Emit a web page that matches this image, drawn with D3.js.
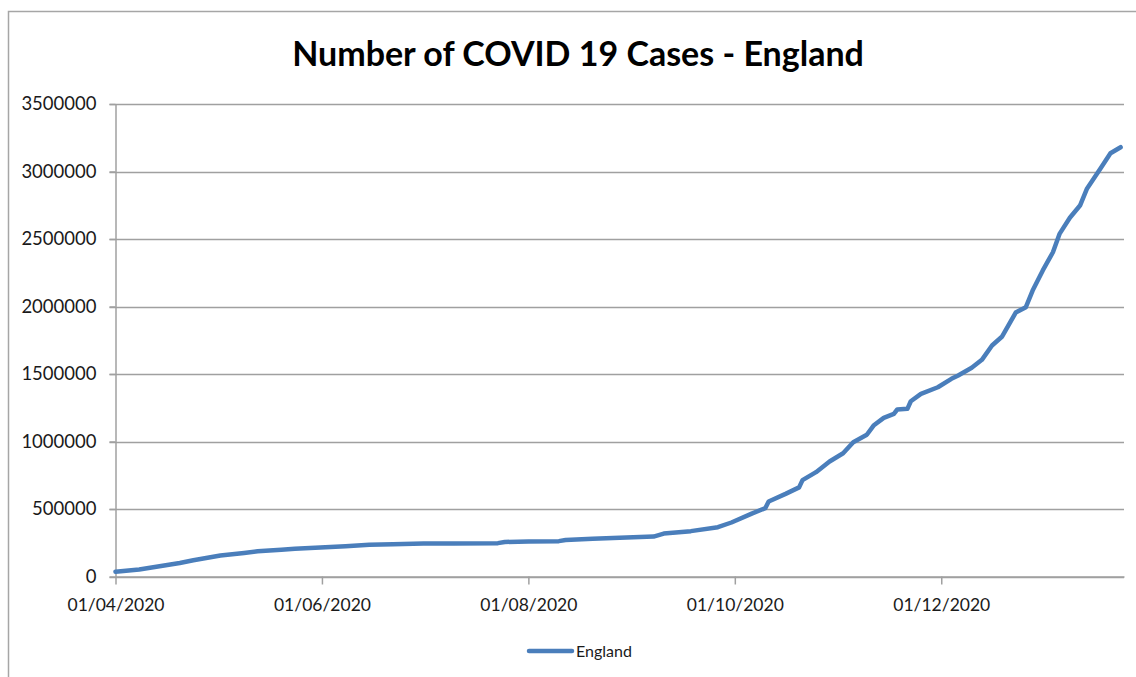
<!DOCTYPE html>
<html>
<head>
<meta charset="utf-8">
<script src="https://cdn.jsdelivr.net/npm/d3@7/dist/d3.min.js"></script>
<style>
  html, body { margin: 0; padding: 0; background: #ffffff; }
  svg { display: block; }
</style>
</head>
<body>
<script>
// Cumulative confirmed COVID-19 cases in England
const dates = [
  "2020-04-01","2020-04-08","2020-04-14","2020-04-20","2020-04-24","2020-05-02",
  "2020-05-09","2020-05-13","2020-05-20","2020-05-24","2020-06-02","2020-06-08",
  "2020-06-15","2020-06-22","2020-07-01","2020-07-10","2020-07-23","2020-07-25",
  "2020-08-01","2020-08-10","2020-08-12","2020-08-20","2020-08-30","2020-09-07",
  "2020-09-10","2020-09-18","2020-09-26","2020-09-30","2020-10-06","2020-10-10",
  "2020-10-11","2020-10-16","2020-10-20","2020-10-21","2020-10-25","2020-10-29",
  "2020-11-02","2020-11-05","2020-11-09","2020-11-11","2020-11-14","2020-11-17",
  "2020-11-18","2020-11-21","2020-11-22","2020-11-25","2020-11-30","2020-12-04",
  "2020-12-06","2020-12-10","2020-12-13","2020-12-16","2020-12-19","2020-12-23",
  "2020-12-26","2020-12-28","2020-12-31","2021-01-03","2021-01-05","2021-01-08",
  "2021-01-11","2021-01-13","2021-01-17","2021-01-20","2021-01-23"
];
const cases = [
  35000, 52000, 76000, 100000, 120000, 155000,
  174000, 187000, 198000, 205000, 217000, 224000,
  235000, 239000, 244000, 245000, 247000, 256000,
  259000, 262000, 270000, 279000, 289000, 296000,
  318000, 336000, 365000, 400000, 466000, 506000,
  556000, 612000, 660000, 714000, 773000, 852000,
  913000, 995000, 1050000, 1118000, 1175000, 1205000,
  1237000, 1242000, 1298000, 1353000, 1402000, 1464000,
  1489000, 1546000, 1605000, 1711000, 1778000, 1955000,
  1995000, 2118000, 2267000, 2402000, 2540000, 2657000,
  2748000, 2870000, 3020000, 3135000, 3180000
];
const xTickDates = ["2020-04-01","2020-06-01","2020-08-01","2020-10-01","2020-12-01"];
const yTickValues = [0, 500000, 1000000, 1500000, 2000000, 2500000, 3000000, 3500000];
const xDomain = ["2020-04-01", "2021-01-24"];
const seriesName = "England";
const chartTitle = "Number of COVID 19 Cases - England";

const W = 1136, H = 677;
const parse = d3.timeParse("%Y-%m-%d");
const fmt = d3.timeFormat("%d/%m/%Y");
const data = dates.map((d, i) => ({ date: parse(d), value: cases[i] }));

const plot = { left: 115.5, right: 1124, top: 104, bottom: 576.5 };
const font = "Lato, 'Open Sans', sans-serif";

const x = d3.scaleTime()
  .domain(xDomain.map(parse))
  .range([plot.left, plot.right]);
const y = d3.scaleLinear()
  .domain([0, 3500000])
  .range([plot.bottom, plot.top]);

const svg = d3.select("body").append("svg")
  .attr("width", W).attr("height", H);

// chart frame
svg.append("rect")
  .attr("x", 8.5).attr("y", 11.5)
  .attr("width", W + 20).attr("height", H + 20)
  .attr("fill", "#ffffff")
  .attr("stroke", "#a6a6a6").attr("stroke-width", 1.5);

// title
svg.append("text")
  .attr("x", 578).attr("y", 66)
  .attr("text-anchor", "middle")
  .attr("font-family", font)
  .attr("font-weight", "bold")
  .attr("font-size", 34)
  .attr("fill", "#000000")
  .text(chartTitle);

// horizontal gridlines with short outside ticks
svg.append("g")
  .selectAll("line")
  .data(yTickValues)
  .join("line")
  .attr("x1", plot.left - 6).attr("x2", plot.right)
  .attr("y1", d => Math.round(y(d)) + 0.5)
  .attr("y2", d => Math.round(y(d)) + 0.5)
  .attr("stroke", "#a0a0a0").attr("stroke-width", 1.5);

// y axis
const yAxis = svg.append("g")
  .attr("transform", `translate(${plot.left},0)`)
  .call(d3.axisLeft(y).tickValues(yTickValues).tickFormat(d3.format("d")).tickSize(6).tickSizeOuter(0));
yAxis.select(".domain").attr("stroke", "#a0a0a0").attr("stroke-width", 1.5);
yAxis.selectAll(".tick line").attr("stroke", "#a0a0a0").attr("stroke-width", 1.5);
yAxis.selectAll(".tick text")
  .attr("x", -19)
  .attr("font-family", font)
  .attr("font-size", 18.5)
  .attr("fill", "#1a1a1a");

// x axis
const xAxis = svg.append("g")
  .attr("transform", `translate(0,${plot.bottom})`)
  .call(d3.axisBottom(x).tickValues(xTickDates.map(parse)).tickFormat(fmt).tickSize(8).tickSizeOuter(0));
xAxis.select(".domain").attr("stroke", "#a0a0a0").attr("stroke-width", 1.5);
xAxis.selectAll(".tick line").attr("stroke", "#a0a0a0").attr("stroke-width", 1.5);
xAxis.selectAll(".tick text")
  .attr("y", 22)
  .attr("font-family", font)
  .attr("font-size", 17.5)
  .attr("fill", "#1a1a1a");

// cases line
svg.append("path")
  .datum(data)
  .attr("fill", "none")
  .attr("stroke", "#4a7ebb")
  .attr("stroke-width", 4.5)
  .attr("stroke-linejoin", "round")
  .attr("stroke-linecap", "round")
  .attr("d", d3.line().x(d => x(d.date)).y(d => y(d.value)));

// legend
const legend = svg.append("g").attr("transform", "translate(529,651)");
legend.append("line")
  .attr("x1", 0).attr("x2", 43).attr("y1", 0).attr("y2", 0)
  .attr("stroke", "#4a7ebb").attr("stroke-width", 4.5).attr("stroke-linecap", "round");
legend.append("text")
  .attr("x", 47).attr("y", 5.5)
  .attr("font-family", font)
  .attr("font-size", 16)
  .attr("fill", "#1a1a1a")
  .text(seriesName);
</script>
</body>
</html>
